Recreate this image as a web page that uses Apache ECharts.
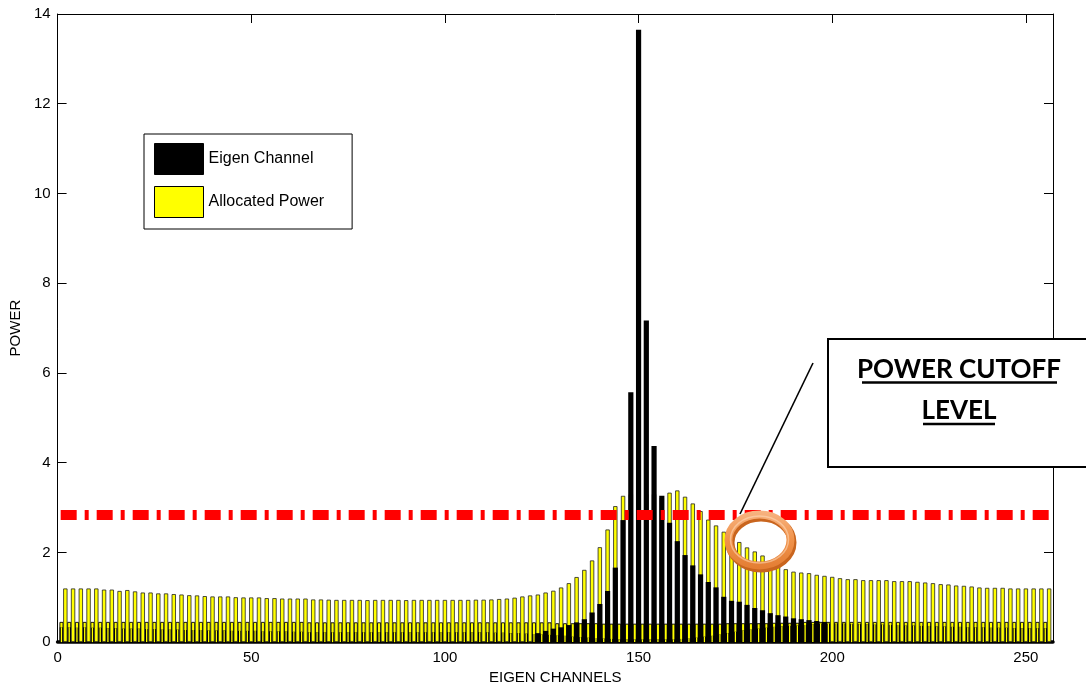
<!DOCTYPE html>
<html>
<head>
<meta charset="utf-8">
<script src="https://cdn.jsdelivr.net/npm/echarts@6/dist/echarts.min.js"></script>
<style>
html,body{margin:0;padding:0;background:#fff;}
#chart{width:1086px;height:690px;}
</style>
</head>
<body>
<div id="chart"></div>
<script>
// ---- data ----
const xTicks = [0, 50, 100, 150, 200, 250];
const yTicks = [0, 2, 4, 6, 8, 10, 12, 14];
const cutoffLevel = 2.83;

// even channels 2,4,...,256 : allocated power (tall yellow bars)
const powerEven = [
  1.195,1.195,1.195,1.195,1.195,1.17,1.17,1.14,1.16,1.13,1.105,1.105,1.085,1.085,1.07,1.06,
  1.045,1.04,1.025,1.017,1.017,1.017,1.0,0.995,0.995,0.995,0.98,0.98,0.97,0.97,0.97,0.97,
  0.95,0.95,0.945,0.94,0.94,0.94,0.94,0.935,0.94,0.94,0.94,0.94,0.935,0.94,0.94,0.94,
  0.94,0.94,0.94,0.94,0.94,0.945,0.945,0.95,0.96,0.97,0.99,1.017,1.04,1.06,1.105,1.145,
  1.217,1.313,1.45,1.61,1.82,2.115,2.51,3.03,3.26,3.3,3.3,3.3,3.3,3.22,3.33,3.38,
  3.24,3.09,2.92,2.73,2.6,2.46,2.32,2.23,2.11,2.02,1.93,1.8,1.70,1.625,1.57,1.55,
  1.536,1.499,1.476,1.454,1.424,1.402,1.402,1.38,1.38,1.38,1.38,1.358,1.358,1.358,1.343,1.328,
  1.313,1.291,1.284,1.261,1.254,1.239,1.217,1.209,1.209,1.209,1.195,1.195,1.195,1.195,1.195,1.195
];
// even channels 2,4,...,256 : eigen channel gain (black bars)
const eigenEven = [
  0,0,0,0,0,0,0,0,0,0,0,0,0,0,0,0,
  0,0,0,0,0,0,0,0,0,0,0,0,0,0,0,0,
  0,0,0,0,0,0,0,0,0,0,0,0,0,0,0,0,
  0,0,0,0,0,0,0,0,0,0,0,0,0,0.2,0.25,0.3,
  0.33,0.38,0.44,0.51,0.66,0.85,1.14,1.66,2.72,5.57,13.65,7.17,4.37,3.26,2.66,2.25,
  1.94,1.71,1.51,1.34,1.22,1.01,0.92,0.90,0.83,0.76,0.71,0.645,0.60,0.57,0.53,0.51,
  0.49,0.47,0.45,0,0,0,0,0,0,0,0,0,0,0,0,0,
  0,0,0,0,0,0,0,0,0,0,0,0,0,0,0,0
];
// odd channels 1,3,...,255 : allocated power (low yellow bars)
const powerOdd = [
  0.45,0.45,0.45,0.45,0.45,0.45,0.45,0.45,0.45,0.45,0.45,0.45,0.45,0.45,0.45,0.45,
  0.45,0.45,0.45,0.45,0.45,0.45,0.45,0.45,0.45,0.45,0.45,0.45,0.45,0.45,0.45,0.45,
  0.44,0.44,0.44,0.44,0.44,0.44,0.44,0.44,0.44,0.44,0.44,0.44,0.44,0.44,0.44,0.44,
  0.44,0.44,0.44,0.44,0.44,0.44,0.44,0.44,0.44,0.44,0.44,0.44,0.44,0.44,0.44,0.44,
  0.42,0.42,0.42,0.42,0.42,0.42,0.41,0.41,0.41,0.41,0.41,0.41,0.41,0.41,0.41,0.41,
  0.41,0.41,0.41,0.41,0.41,0.41,0.42,0.42,0.42,0.42,0.42,0.42,0.43,0.43,0.43,0.43,
  0.45,0.45,0.45,0.45,0.45,0.45,0.45,0.45,0.45,0.45,0.45,0.45,0.45,0.45,0.45,0.45,
  0.45,0.45,0.45,0.45,0.45,0.45,0.45,0.45,0.45,0.45,0.45,0.45,0.45,0.45,0.45,0.45
];
// odd channels 1,3,...,255 : eigen channel gain (low black bars)
const eigenOdd = [
  0.33,0.33,0.32,0.33,0.32,0.32,0.31,0.31,0.30,0.30,0.30,0.29,0.29,0.28,0.28,0.28,
  0.27,0.27,0.27,0.26,0.26,0.26,0.25,0.25,0.25,0.25,0.24,0.24,0.24,0.24,0.23,0.23,
  0.22,0.22,0.22,0.22,0.22,0.22,0.22,0.22,0.22,0.22,0.22,0.22,0.22,0.22,0.22,0.22,
  0.22,0.22,0.22,0.22,0.22,0.22,0.22,0.22,0.21,0.21,0.20,0.20,0.19,0.18,0.17,0.16,
  0.15,0.14,0.12,0.11,0.10,0.09,0.08,0.07,0.06,0.06,0.06,0.06,0.06,0.06,0.06,0.06,
  0.07,0.08,0.10,0.12,0.14,0.17,0.20,0.23,0.26,0.28,0.30,0.32,0.34,0.35,0.36,0.37,
  0.38,0.40,0.41,0.41,0.41,0.41,0.40,0.40,0.40,0.39,0.39,0.38,0.38,0.37,0.37,0.36,
  0.36,0.35,0.35,0.34,0.34,0.33,0.33,0.33,0.32,0.32,0.32,0.31,0.31,0.31,0.31,0.31
];

// channel indices for the two interleaved groups
const evenChannels = powerEven.map((_, i) => 2 * i + 2);
const oddChannels = powerOdd.map((_, i) => 2 * i + 1);
const pairs = (xs, ys) => xs.map((x, i) => [x, ys[i]]);

const FONT = 'Liberation Sans';
const X_MIN = 0, X_MAX = 257, Y_MIN = 0, Y_MAX = 14;

const chart = echarts.init(document.getElementById('chart'), null, {renderer: 'canvas'});

const hiddenX = () => ({type: 'value', min: X_MIN, max: X_MAX, show: false, gridIndex: 0});

const option = {
  backgroundColor: '#ffffff',
  animation: false,
  grid: {left: 56, top: 14, width: 997, height: 629, containLabel: false},
  legend: {
    orient: 'vertical', left: 144, top: 134,
    backgroundColor: '#ffffff', borderColor: '#000', borderWidth: 1,
    padding: [9, 28, 11, 10], itemGap: 11, itemWidth: 49, itemHeight: 31,
    icon: 'rect',
    textStyle: {fontFamily: FONT, fontSize: 16, color: '#000'},
    data: [
      {name: 'Eigen Channel', itemStyle: {color: '#000', borderColor: '#000', borderWidth: 1}},
      {name: 'Allocated Power', itemStyle: {color: '#ffff00', borderColor: '#000', borderWidth: 1}}
    ]
  },
  xAxis: [
    {
      type: 'value', min: X_MIN, max: X_MAX, interval: 50, position: 'bottom',
      name: 'EIGEN CHANNELS', nameLocation: 'middle', nameGap: 25,
      nameTextStyle: {fontFamily: FONT, fontSize: 15, color: '#000'},
      axisLine: {show: true, onZero: false, lineStyle: {color: '#000', width: 3.5}},
      axisTick: {show: true, inside: true, length: 9, customValues: xTicks, lineStyle: {color: '#000'}},
      axisLabel: {show: true, margin: 8, customValues: xTicks, fontFamily: FONT, fontSize: 15, color: '#000'},
      splitLine: {show: false}
    },
    {
      type: 'value', min: X_MIN, max: X_MAX, interval: 50, position: 'top',
      axisLine: {show: true, onZero: false, lineStyle: {color: '#000', width: 1}},
      axisTick: {show: true, inside: true, length: 9, customValues: xTicks, lineStyle: {color: '#000'}},
      axisLabel: {show: false},
      splitLine: {show: false}
    },
    hiddenX(), hiddenX(), hiddenX()
  ],
  yAxis: [
    {
      type: 'value', min: Y_MIN, max: Y_MAX, interval: 2, position: 'left',
      name: 'POWER', nameLocation: 'middle', nameGap: 27,
      nameTextStyle: {fontFamily: FONT, fontSize: 15, color: '#000'},
      axisLine: {show: true, onZero: false, lineStyle: {color: '#000', width: 1}},
      axisTick: {show: true, inside: true, length: 9, lineStyle: {color: '#000'}},
      axisLabel: {show: true, margin: 7, fontFamily: FONT, fontSize: 15, color: '#000',
        customValues: yTicks},
      splitLine: {show: false}
    },
    {
      type: 'value', min: Y_MIN, max: Y_MAX, interval: 2, position: 'right',
      axisLine: {show: true, onZero: false, lineStyle: {color: '#000', width: 1}},
      axisTick: {show: true, inside: true, length: 9, lineStyle: {color: '#000'}},
      axisLabel: {show: false},
      splitLine: {show: false}
    }
  ],
  series: [
    {
      name: 'Allocated Power', type: 'bar', xAxisIndex: 2, yAxisIndex: 0,
      barWidth: 4, data: pairs(oddChannels, powerOdd),
      itemStyle: {color: '#ffff00', borderColor: '#000', borderWidth: 0.9}
    },
    {
      name: 'Eigen Channel', type: 'bar', xAxisIndex: 3, yAxisIndex: 0,
      barWidth: 3.6, data: pairs(oddChannels, eigenOdd),
      itemStyle: {color: '#000'}
    },
    {
      name: 'Allocated Power', type: 'bar', xAxisIndex: 4, yAxisIndex: 0,
      barWidth: 1.3, data: pairs(oddChannels, eigenOdd),
      itemStyle: {color: '#ffff00'}
    },
    {
      name: 'Allocated Power', type: 'bar', xAxisIndex: 0, yAxisIndex: 0,
      barWidth: 4.3, data: pairs(evenChannels, powerEven),
      itemStyle: {color: '#ffff00', borderColor: '#222', borderWidth: 0.8}
    },
    {
      name: 'Eigen Channel', type: 'bar', xAxisIndex: 1, yAxisIndex: 0,
      barWidth: 5.2, data: pairs(evenChannels, eigenEven),
      itemStyle: {color: '#000'},
      markLine: {
        silent: true, symbol: 'none', z: 10, animation: false,
        label: {show: false},
        lineStyle: {color: '#ff0000', width: 10, type: [16, 8, 4, 8], cap: 'butt', opacity: 1},
        emphasis: {disabled: true},
        data: [[{coord: [0.8, cutoffLevel]}, {coord: [256.2, cutoffLevel]}]]
      }
    }
  ],
  graphic: [
    // leader line
    {type: 'line', z: 100, shape: {x1: 813, y1: 363, x2: 740, y2: 514},
     style: {stroke: '#000', lineWidth: 1.6}},
    // orange ring (shadow + body + highlight)
    {type: 'ellipse', z: 101, shape: {cx: 761, cy: 542.5, rx: 31, ry: 25.5},
     style: {fill: null, stroke: '#c9651e', lineWidth: 9}},
    {type: 'ellipse', z: 102, shape: {cx: 759.5, cy: 540, rx: 31, ry: 25.5},
     style: {fill: null, lineWidth: 8,
       stroke: new echarts.graphic.LinearGradient(0, 0, 0, 1, [
         {offset: 0, color: '#f7b482'}, {offset: 0.5, color: '#f0924a'}, {offset: 1, color: '#e37d33'}])}},
    {type: 'ellipse', z: 103, shape: {cx: 759.5, cy: 539.5, rx: 29, ry: 23.5},
     style: {fill: null, stroke: 'rgba(255,220,190,0.55)', lineWidth: 1.5}},
    // annotation box
    {type: 'rect', z: 110, shape: {x: 828, y: 339, width: 280, height: 128},
     style: {fill: '#fff', stroke: '#000', lineWidth: 2}},
    {type: 'text', z: 111, x: 959, y: 370,
     style: {text: 'POWER CUTOFF', font: 'bold 26px Lato', fill: '#000', align: 'center', verticalAlign: 'middle'}},
    {type: 'text', z: 111, x: 959, y: 411,
     style: {text: 'LEVEL', font: 'bold 26px Lato', fill: '#000', align: 'center', verticalAlign: 'middle'}},
    {type: 'line', z: 111, shape: {x1: 862, y1: 382.5, x2: 1057, y2: 382.5},
     style: {stroke: '#000', lineWidth: 2.4}},
    {type: 'line', z: 111, shape: {x1: 923, y1: 424, x2: 995, y2: 424},
     style: {stroke: '#000', lineWidth: 2.4}}
  ]
};
chart.setOption(option);
</script>
</body>
</html>
